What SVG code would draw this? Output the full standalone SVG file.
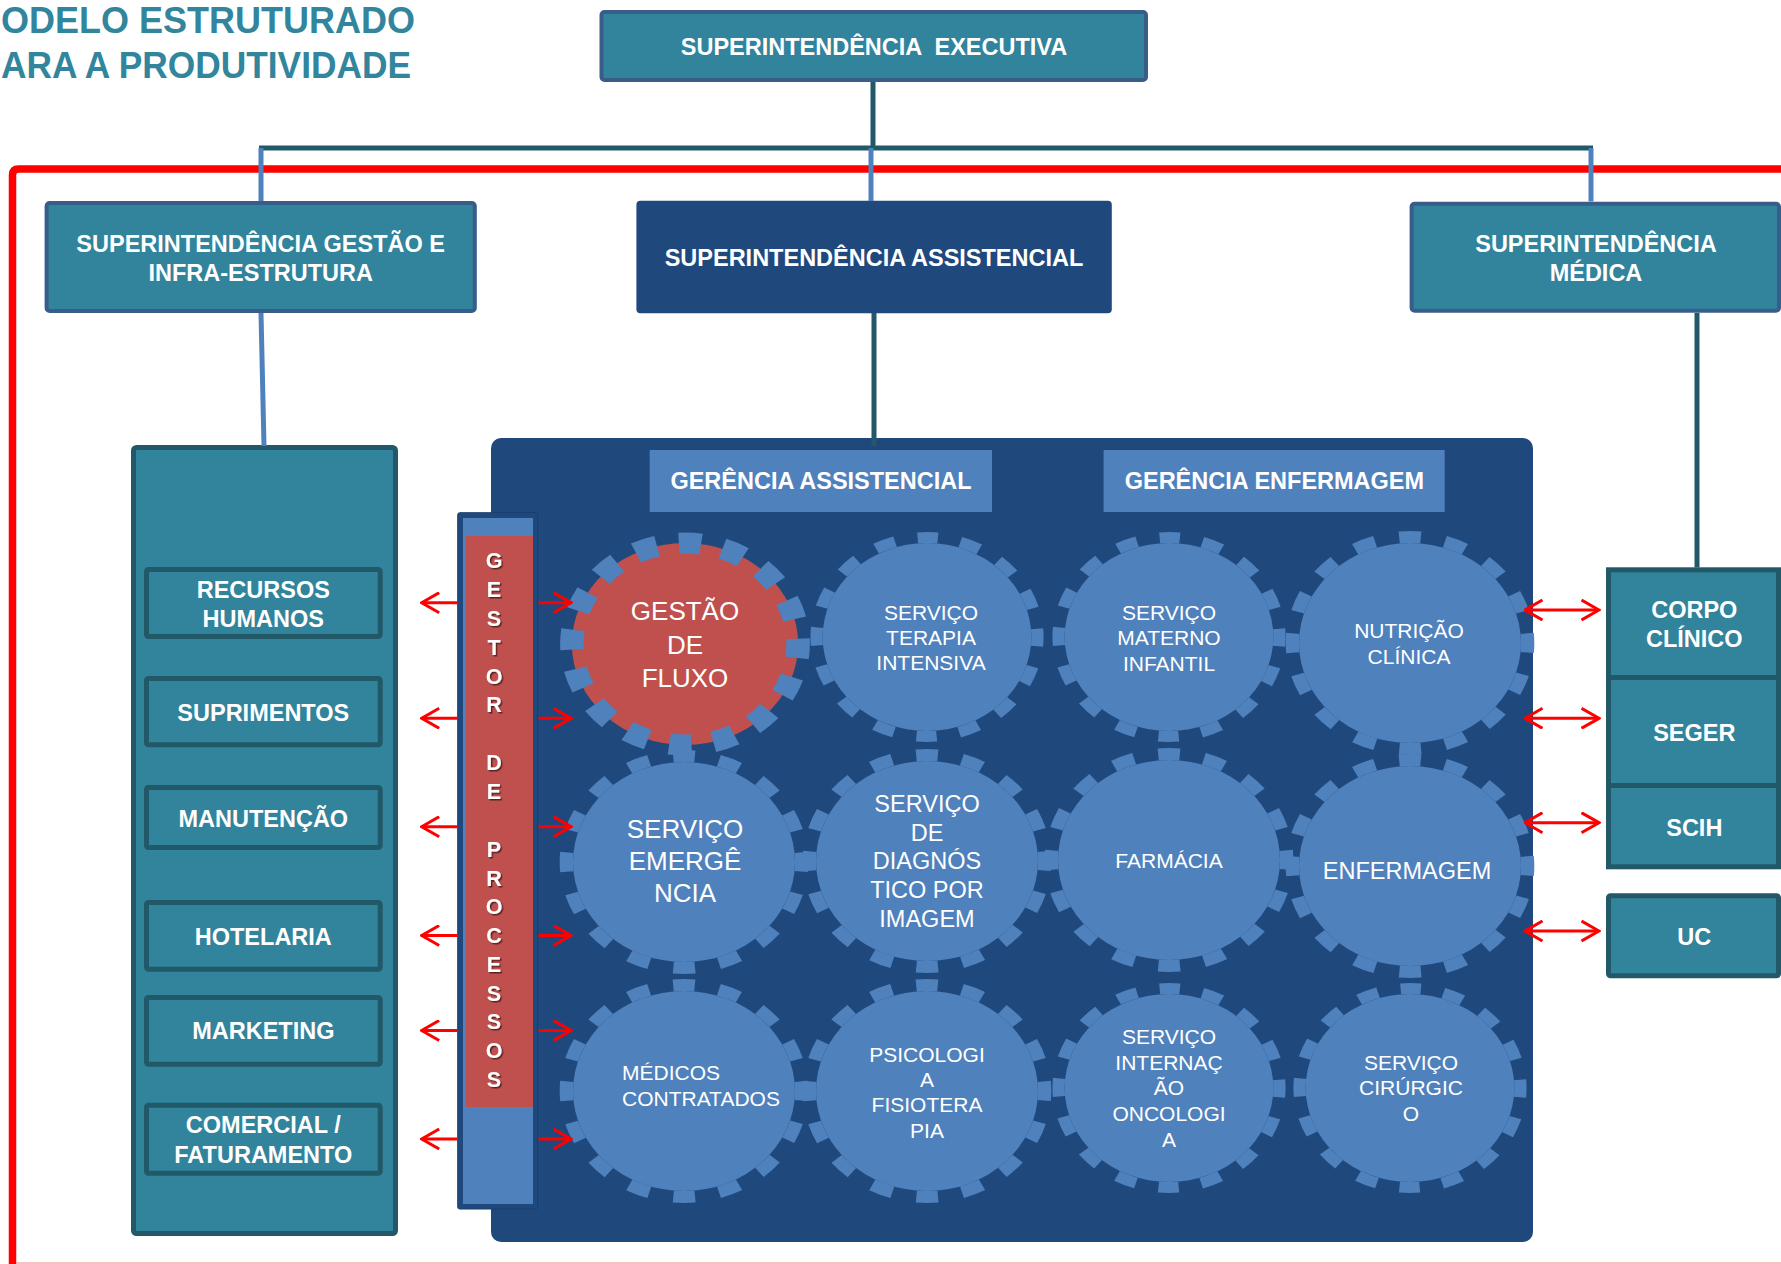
<svg xmlns="http://www.w3.org/2000/svg" xmlns:xlink="http://www.w3.org/1999/xlink" width="1781" height="1264" viewBox="0 0 1781 1264">
<style>
.t{font-family:"Liberation Sans",Arial,sans-serif;fill:#fff;text-anchor:middle}
.b{font-weight:bold;font-size:23.5px}
.r21{font-size:21px}
.r23{font-size:23.5px}
.r26{font-size:26px}
.top{fill:#31849B;stroke:#385D8A;stroke-width:4}
.sub{fill:#31849B;stroke:#215968;stroke-width:5}
.cd{stroke:#215968;stroke-width:5;fill:none}
.cb{stroke:#4F81BD;stroke-width:5;fill:none}
.arr{stroke:#FF0000;stroke-width:3;fill:none}
.gl{font-family:"Liberation Sans",Arial,sans-serif;font-weight:bold;font-size:21.5px;fill:#fff;text-anchor:middle}
.ttl{font-family:"Liberation Sans",Arial,sans-serif;font-weight:bold;font-size:37px;fill:#31859C}
</style>
<defs>
<marker id="ah" viewBox="0 0 20 22" refX="18.5" refY="11" markerWidth="20" markerHeight="22" markerUnits="userSpaceOnUse" orient="auto-start-reverse">
<path d="M1,1 L18.5,11 L1,21" fill="none" stroke="#FF0000" stroke-width="3"/>
</marker>
<filter id="sh" x="-50%" y="-50%" width="200%" height="200%">
<feDropShadow dx="1.5" dy="1.5" stdDeviation="0.7" flood-color="#000" flood-opacity="0.55"/>
</filter>
<g id="gearB">
<circle r="100" fill="#4F81BD"/>
<circle r="106" fill="none" stroke="#4F81BD" stroke-width="12" stroke-dasharray="19.5 22.13" stroke-dashoffset="10"/>
</g>
<g id="gearS">
<circle r="94" fill="#4F81BD"/>
<circle r="99.5" fill="none" stroke="#4F81BD" stroke-width="11" stroke-dasharray="18.5 20.57" stroke-dashoffset="9"/>
</g>
</defs>

<rect width="1781" height="1264" fill="#fff"/>

<!-- red frame -->
<path d="M12.5,1264 V175 Q12.5,169 18.5,169 H1781" fill="none" stroke="#FF0000" stroke-width="7.5"/>
<line x1="16" y1="1263" x2="1781" y2="1263" stroke="#F8AAAA" stroke-width="1.5"/>

<!-- title -->
<g id="title">
<text class="ttl" x="1" y="33" textLength="414" lengthAdjust="spacingAndGlyphs">ODELO ESTRUTURADO</text>
<text class="ttl" x="1" y="78" textLength="410" lengthAdjust="spacingAndGlyphs">ARA A PRODUTIVIDADE</text>
</g>

<!-- top level nodes -->
<g id="sup-executiva">
<rect class="top" x="601.5" y="12" width="544.5" height="68" rx="3"/>
<text class="t b" x="874" y="55" style="white-space:pre">SUPERINTENDÊNCIA  EXECUTIVA</text>
</g>
<g id="sup-gestao">
<rect class="top" x="46.6" y="203" width="428.2" height="108" rx="3"/>
<text class="t b" x="260.7" y="251.7">SUPERINTENDÊNCIA GESTÃO E</text>
<text class="t b" x="260.7" y="281">INFRA-ESTRUTURA</text>
</g>
<g id="sup-assistencial">
<rect x="636.4" y="200.7" width="475.4" height="112.6" rx="4" fill="#1F497D"/>
<text class="t b" x="874" y="266">SUPERINTENDÊNCIA ASSISTENCIAL</text>
</g>
<g id="sup-medica">
<rect class="top" x="1411.6" y="203.7" width="367.4" height="107" rx="3"/>
<text class="t b" x="1596" y="251.7">SUPERINTENDÊNCIA</text>
<text class="t b" x="1596" y="281">MÉDICA</text>
</g>

<!-- left column -->
<g id="coluna-gestao">
<rect class="sub" x="133.5" y="447.5" width="262" height="786" rx="3"/>
</g>
<g id="recursos-humanos">
<rect class="sub" x="146.5" y="569.5" width="233.7" height="67" rx="2"/>
<text class="t b" x="263.3" y="598.3">RECURSOS</text>
<text class="t b" x="263.3" y="627.3">HUMANOS</text>
</g>
<g id="suprimentos">
<rect class="sub" x="146.5" y="678.5" width="233.7" height="66.3" rx="2"/>
<text class="t b" x="263.3" y="721">SUPRIMENTOS</text>
</g>
<g id="manutencao">
<rect class="sub" x="146.5" y="787.5" width="233.7" height="60" rx="2"/>
<text class="t b" x="263.3" y="826.7">MANUTENÇÃO</text>
</g>
<g id="hotelaria">
<rect class="sub" x="146.5" y="902.5" width="233.7" height="66.7" rx="2"/>
<text class="t b" x="263.3" y="945">HOTELARIA</text>
</g>
<g id="marketing">
<rect class="sub" x="146.5" y="997.5" width="233.7" height="66.7" rx="2"/>
<text class="t b" x="263.3" y="1039">MARKETING</text>
</g>
<g id="comercial">
<rect class="sub" x="146.5" y="1105.2" width="233.7" height="68" rx="2"/>
<text class="t b" x="263.3" y="1133">COMERCIAL /</text>
<text class="t b" x="263.3" y="1163">FATURAMENTO</text>
</g>

<!-- assistencial panel -->
<g id="painel-assistencial">
<rect x="491" y="438" width="1042" height="804" rx="10" fill="#1F497D"/>
</g>
<g id="gestor-processos">
<rect x="457.7" y="512.7" width="80" height="696.3" rx="2" fill="#1F497D" stroke="#1A3F6D" stroke-width="1"/>
<rect x="463" y="518" width="70" height="686" fill="#4F81BD"/>
<rect x="466" y="536" width="67" height="571" fill="#C0504D"/>
<text class="gl" filter="url(#sh)"><tspan x="494" y="568.3">G</tspan><tspan x="494" y="597">E</tspan><tspan x="494" y="626">S</tspan><tspan x="494" y="655">T</tspan><tspan x="494" y="683.5">O</tspan><tspan x="494" y="712.3">R</tspan><tspan x="494" y="770">D</tspan><tspan x="494" y="799">E</tspan><tspan x="494" y="856.7">P</tspan><tspan x="494" y="885.5">R</tspan><tspan x="494" y="914.3">O</tspan><tspan x="494" y="943">C</tspan><tspan x="494" y="971.8">E</tspan><tspan x="494" y="1000.5">S</tspan><tspan x="494" y="1029.3">S</tspan><tspan x="494" y="1058">O</tspan><tspan x="494" y="1086.8">S</tspan></text>
</g>
<g id="gerencia-assistencial">
<rect x="649.7" y="450" width="342.3" height="62" fill="#4F81BD"/>
<text class="t b" x="821" y="489">GERÊNCIA ASSISTENCIAL</text>
</g>
<g id="gerencia-enfermagem">
<rect x="1103.6" y="450" width="341.1" height="62" fill="#4F81BD"/>
<text class="t b" x="1274.4" y="489">GERÊNCIA ENFERMAGEM</text>
</g>

<!-- gears row 3 -->
<g id="medicos-contratados">
<use href="#gearB" transform="translate(684 1091) scale(1.11 1)"/>
<text class="t r21" style="text-anchor:start" x="622" y="1080">MÉDICOS</text>
<text class="t r21" style="text-anchor:start" x="622" y="1106">CONTRATADOS</text>
</g>
<g id="psicologia-fisioterapia">
<use href="#gearB" transform="translate(927 1091) scale(1.11 1)"/>
<text class="t r21" x="927" y="1061.7">PSICOLOGI</text>
<text class="t r21" x="927" y="1086.7">A</text>
<text class="t r21" x="927" y="1112">FISIOTERA</text>
<text class="t r21" x="927" y="1137.7">PIA</text>
</g>
<g id="internacao-oncologia">
<use href="#gearS" transform="translate(1169 1088) scale(1.11 1)"/>
<text class="t r21" x="1169" y="1044">SERVIÇO</text>
<text class="t r21" x="1169" y="1070">INTERNAÇ</text>
<text class="t r21" x="1169" y="1095">ÃO</text>
<text class="t r21" x="1169" y="1121">ONCOLOGI</text>
<text class="t r21" x="1169" y="1146.7">A</text>
</g>
<g id="servico-cirurgico">
<use href="#gearS" transform="translate(1410 1088) scale(1.11 1)"/>
<text class="t r21" x="1411" y="1070">SERVIÇO</text>
<text class="t r21" x="1411" y="1095">CIRÚRGIC</text>
<text class="t r21" x="1411" y="1120.7">O</text>
</g>

<!-- gears row 2 -->
<g id="emergencia">
<use href="#gearB" transform="translate(684 862) scale(1.11 1)"/>
<text class="t r26" x="685" y="838">SERVIÇO</text>
<text class="t r26" x="685" y="870">EMERGÊ</text>
<text class="t r26" x="685" y="902">NCIA</text>
</g>
<g id="diagnostico-imagem">
<use href="#gearB" transform="translate(927 861) scale(1.11 1)"/>
<text class="t r23" x="927" y="812">SERVIÇO</text>
<text class="t r23" x="927" y="840.7">DE</text>
<text class="t r23" x="927" y="869">DIAGNÓS</text>
<text class="t r23" x="927" y="898">TICO POR</text>
<text class="t r23" x="927" y="927">IMAGEM</text>
</g>
<g id="farmacia">
<use href="#gearB" transform="translate(1169 860) scale(1.11 1)"/>
<text class="t r21" x="1169" y="868">FARMÁCIA</text>
</g>
<g id="enfermagem">
<use href="#gearB" transform="translate(1410 866) scale(1.11 1)"/>
<text class="t r23" x="1407" y="879">ENFERMAGEM</text>
</g>

<!-- gears row 1 -->
<g id="terapia-intensiva">
<use href="#gearS" transform="translate(927 637) scale(1.11 1)"/>
<text class="t r21" x="931" y="620">SERVIÇO</text>
<text class="t r21" x="931" y="645">TERAPIA</text>
<text class="t r21" x="931" y="670">INTENSIVA</text>
</g>
<g id="materno-infantil">
<use href="#gearS" transform="translate(1169 637) scale(1.11 1)"/>
<text class="t r21" x="1169" y="620">SERVIÇO</text>
<text class="t r21" x="1169" y="645">MATERNO</text>
<text class="t r21" x="1169" y="670.7">INFANTIL</text>
</g>
<g id="nutricao-clinica">
<use href="#gearB" transform="translate(1410 643) scale(1.11 1)"/>
<text class="t r21" x="1409" y="638">NUTRIÇÃO</text>
<text class="t r21" x="1409" y="664">CLÍNICA</text>
</g>
<g id="gestao-fluxo">
<g transform="translate(685 644) scale(1.12 1)">
<circle r="101" fill="#C0504D"/>
<circle r="101" fill="none" stroke="#4F81BD" stroke-width="21" stroke-dasharray="20 19.66" stroke-dashoffset="6"/>
</g>
<text class="t r26" x="685" y="620">GESTÃO</text>
<text class="t r26" x="685" y="653.5">DE</text>
<text class="t r26" x="685" y="687">FLUXO</text>
</g>

<!-- right boxes -->
<g id="corpo-clinico">
<rect class="sub" x="1608.5" y="569.8" width="170" height="107.7"/>
<text class="t b" x="1694.3" y="618.3">CORPO</text>
<text class="t b" x="1694.3" y="646.7">CLÍNICO</text>
</g>
<g id="seger">
<rect class="sub" x="1608.5" y="677.5" width="170" height="108"/>
<text class="t b" x="1694.3" y="741">SEGER</text>
</g>
<g id="scih">
<rect class="sub" x="1608.5" y="785.5" width="170" height="81.3"/>
<text class="t b" x="1694.3" y="836">SCIH</text>
</g>
<g id="uc">
<rect class="sub" x="1608.5" y="895.8" width="170" height="80" rx="2"/>
<text class="t b" x="1694.3" y="945">UC</text>
</g>

<!-- connectors -->
<g id="connectors">
<line class="cd" x1="873" y1="82" x2="873" y2="148"/>
<line class="cd" x1="259" y1="148" x2="1593" y2="148"/>
<line class="cb" x1="261" y1="148" x2="261" y2="201"/>
<line class="cb" x1="871" y1="148" x2="871" y2="201"/>
<line class="cb" x1="1591" y1="148" x2="1591" y2="201.5"/>
<line class="cb" x1="261" y1="313" x2="264" y2="446"/>
<line class="cd" x1="874" y1="313" x2="874" y2="446" stroke-width="6"/>
<line class="cd" x1="1697" y1="313" x2="1697" y2="567.5"/>

<line class="arr" x1="457.7" y1="602.7" x2="421.7" y2="602.7" marker-end="url(#ah)"/>
<line class="arr" x1="457.7" y1="718.3" x2="421.7" y2="718.3" marker-end="url(#ah)"/>
<line class="arr" x1="457.7" y1="826.7" x2="421.7" y2="826.7" marker-end="url(#ah)"/>
<line class="arr" x1="457.7" y1="935.5" x2="421.7" y2="935.5" marker-end="url(#ah)"/>
<line class="arr" x1="457.7" y1="1030.5" x2="421.7" y2="1030.5" marker-end="url(#ah)"/>
<line class="arr" x1="457.7" y1="1139" x2="421.7" y2="1139" marker-end="url(#ah)"/>

<line class="arr" x1="538.5" y1="602.7" x2="571" y2="602.7" marker-end="url(#ah)"/>
<line class="arr" x1="538.5" y1="718.3" x2="571" y2="718.3" marker-end="url(#ah)"/>
<line class="arr" x1="538.5" y1="826.7" x2="571" y2="826.7" marker-end="url(#ah)"/>
<line class="arr" x1="538.5" y1="935.5" x2="571" y2="935.5" marker-end="url(#ah)"/>
<line class="arr" x1="538.5" y1="1030.5" x2="571" y2="1030.5" marker-end="url(#ah)"/>
<line class="arr" x1="538.5" y1="1139" x2="571" y2="1139" marker-end="url(#ah)"/>

<line class="arr" x1="1525" y1="610" x2="1599" y2="610" marker-start="url(#ah)" marker-end="url(#ah)"/>
<line class="arr" x1="1525" y1="718.3" x2="1599" y2="718.3" marker-start="url(#ah)" marker-end="url(#ah)"/>
<line class="arr" x1="1525" y1="822.7" x2="1599" y2="822.7" marker-start="url(#ah)" marker-end="url(#ah)"/>
<line class="arr" x1="1525" y1="931" x2="1599" y2="931" marker-start="url(#ah)" marker-end="url(#ah)"/>
</g>
</svg>
